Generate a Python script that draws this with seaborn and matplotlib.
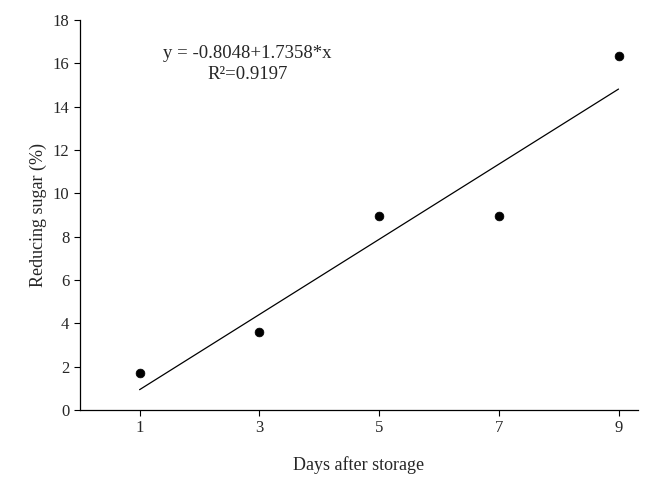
import matplotlib
matplotlib.use("Agg")
import matplotlib.pyplot as plt
import seaborn as sns
import numpy as np
import pandas as pd

days = [1, 3, 5, 7, 9]
sugar = [1.7, 3.6, 8.95, 8.95, 16.35]
intercept, slope = -0.8048, 1.7358

sns.set_style("ticks")
plt.rcParams['font.family'] = ['Liberation Serif', 'DejaVu Serif']

fig = plt.figure(figsize=(6.48, 4.92), dpi=100)
ax = fig.add_axes([0.123, 0.167, 0.862, 0.792])
df = pd.DataFrame({"d": days, "s": sugar})
sns.scatterplot(data=df, x="d", y="s", ax=ax, color="black", s=40, edgecolor="black", zorder=3)
xl = np.array([1, 9])
sns.lineplot(x=xl, y=intercept + slope * xl, ax=ax, color="black", lw=0.9)
ax.set_xlim(0, 9.33)
ax.set_ylim(0, 18)
ax.set_xticks(days)
ax.set_yticks(range(0, 19, 2))
ax.tick_params(labelsize=12, direction="out", length=4, color="black")
ax.set_xlabel("Days after storage", fontsize=13, labelpad=14)
ax.set_ylabel("Reducing sugar (%)", fontsize=13)
for s in ["top", "right"]:
    ax.spines[s].set_visible(False)
for s in ["left", "bottom"]:
    ax.spines[s].set_color("black")
    ax.spines[s].set_linewidth(0.9)
ax.text(2.8, 16.45, "y = -0.8048+1.7358*x", ha="center", va="center", fontsize=13.5)
ax.text(2.8, 15.5, "R²=0.9197", ha="center", va="center", fontsize=13.5)
fig.savefig("out.png", dpi=100)
